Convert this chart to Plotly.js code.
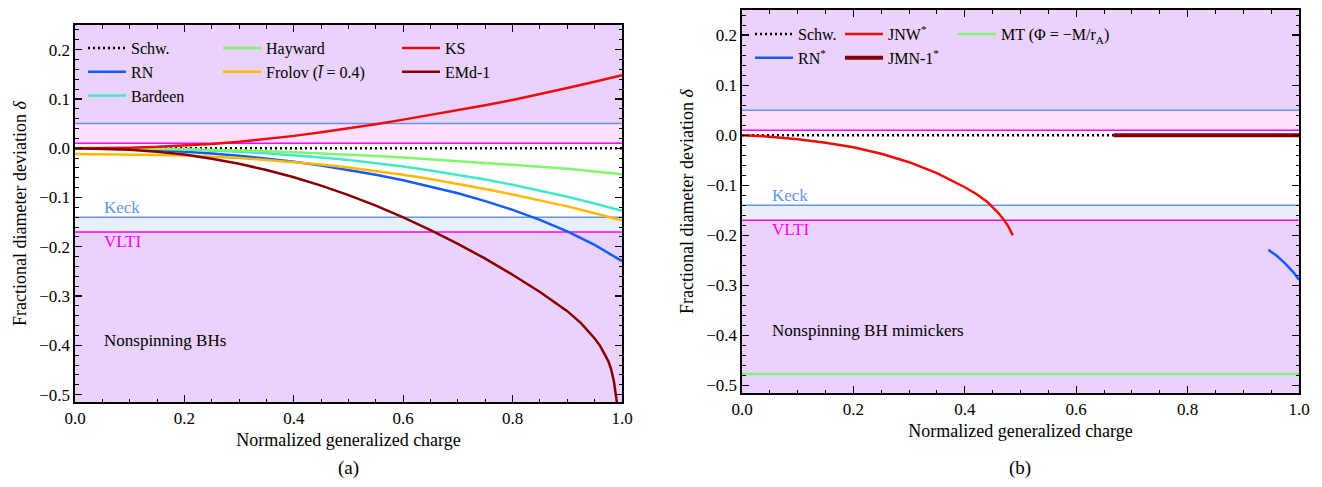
<!DOCTYPE html>
<html>
<head>
<meta charset="utf-8">
<script src="https://cdn.plot.ly/plotly-3.0.1.min.js"></script>
<style>html,body{margin:0;padding:0;background:#fff;}#chart{width:1322px;height:487px;}</style>
</head>
<body>
<div id="chart"></div>
<script>
// ---------- data ----------
// Panel (a): nonspinning BHs
const qA = [0, 0.05, 0.1, 0.15, 0.2, 0.25, 0.3, 0.35, 0.4, 0.45, 0.5, 0.55, 0.6, 0.65, 0.7, 0.75, 0.8, 0.85, 0.9, 0.95, 1.0];
const schwX = [0, 1];
const schwA = [0, 0];
const qRN = [0, 0.05, 0.1, 0.15, 0.2, 0.25, 0.3, 0.35, 0.4, 0.45, 0.5, 0.55, 0.6, 0.65, 0.7, 0.75, 0.8, 0.85, 0.9, 0.95, 0.975, 1.0];
const rn = [0, -0.0004, -0.0017, -0.0038, -0.0067, -0.0105, -0.0152, -0.0209, -0.0275, -0.0352, -0.0439, -0.0538, -0.0649, -0.0775, -0.0915, -0.1073, -0.1251, -0.1454, -0.1688, -0.1963, -0.2122, -0.2290];
const bardeen = [0, -0.0001, -0.0005, -0.0013, -0.0027, -0.0046, -0.0071, -0.0102, -0.0141, -0.0187, -0.0241, -0.0303, -0.0373, -0.0452, -0.0540, -0.0637, -0.0743, -0.0860, -0.0986, -0.1123, -0.1270];
const hayward = [0, -0.0001, -0.0005, -0.0011, -0.002, -0.003, -0.0045, -0.006, -0.008, -0.0103, -0.013, -0.0158, -0.019, -0.0225, -0.026, -0.0297, -0.0335, -0.0375, -0.0415, -0.0465, -0.053];
const frolov = [-0.012, -0.0121, -0.0125, -0.0136, -0.015, -0.0172, -0.020, -0.0237, -0.028, -0.0332, -0.039, -0.0462, -0.054, -0.0627, -0.072, -0.0827, -0.094, -0.1057, -0.118, -0.132, -0.147];
const ks = [0, 0.0003, 0.001, 0.0027, 0.005, 0.0087, 0.013, 0.0187, 0.025, 0.0323, 0.040, 0.0488, 0.058, 0.0673, 0.077, 0.0873, 0.098, 0.1097, 0.122, 0.1348, 0.148];
const qEMd = [0, 0.05, 0.1, 0.15, 0.2, 0.25, 0.3, 0.35, 0.4, 0.45, 0.5, 0.55, 0.6, 0.65, 0.7, 0.75, 0.8, 0.85, 0.9, 0.925, 0.95, 0.96, 0.97, 0.975, 0.98, 0.985, 0.99, 0.995];
const emd1 = [0, -0.0008, -0.003, -0.007, -0.013, -0.0212, -0.0316, -0.0442, -0.059, -0.076, -0.0952, -0.1166, -0.1402, -0.166, -0.194, -0.2242, -0.2567, -0.2917, -0.3307, -0.355, -0.386, -0.401, -0.420, -0.432, -0.448, -0.472, -0.510, -0.570];

// Panel (b): nonspinning BH mimickers
const qSchwB = [0, 0.667];
const schwB = [0, 0];
const qRNs = [0.945, 0.96, 0.975, 0.99, 1.0];
const rnStar = [-0.229, -0.241, -0.256, -0.274, -0.289];
const qJNW = [0, 0.05, 0.1, 0.15, 0.2, 0.25, 0.3, 0.35, 0.4, 0.42, 0.44, 0.45, 0.46, 0.47, 0.478, 0.486];
const jnw = [0, -0.003, -0.008, -0.015, -0.024, -0.037, -0.054, -0.076, -0.104, -0.117, -0.133, -0.143, -0.155, -0.169, -0.182, -0.200];
const qJMN = [0.667, 1.0];
const jmn1 = [0, 0];
const qMT = [0, 1.0];
const mt = [-0.477, -0.477];

// Observational bounds
const keckBand = [-0.14, 0.05];
const vltiBand = [-0.17, 0.01];

// Axis ticks
const xTicks = [0, 0.2, 0.4, 0.6, 0.8, 1.0];
const yTicks = [-0.5, -0.4, -0.3, -0.2, -0.1, 0.0, 0.1, 0.2];

// ---------- styling ----------
const FONT = 'Liberation Serif';
const W = 1322, H = 487;
const px = v => v / W;
const py = v => 1 - v / H;

const C = {
  rn: 'rgb(20,90,255)', bardeen: 'rgb(64,234,200)', hayward: 'rgb(128,245,110)',
  frolov: 'rgb(255,185,0)', ks: 'rgb(240,10,10)', emd: 'rgb(135,0,0)',
  keck: 'rgb(100,149,237)', vlti: 'rgb(255,0,255)'
};

function tr(x, y, name, color, xa, ya, leg, extra) {
  return Object.assign({
    x: x, y: y, name: name, type: 'scatter', mode: 'lines',
    line: {color: color, width: 2.5},
    xaxis: xa, yaxis: ya, legend: leg, hoverinfo: 'skip'
  }, extra || {});
}

const dotted = {color: 'black', width: 2.5, dash: '2px,3px'};
const traces = [
  tr(schwX, schwA, 'Schw.', 'black', 'x', 'y', 'legend', {line: dotted}),
  tr(qRN, rn, 'RN', C.rn, 'x', 'y', 'legend'),
  tr(qA, bardeen, 'Bardeen', C.bardeen, 'x', 'y', 'legend'),
  tr(qA, hayward, 'Hayward', C.hayward, 'x', 'y', 'legend2'),
  tr(qA, frolov, 'Frolov (<i>l̄</i> = 0.4)', C.frolov, 'x', 'y', 'legend2'),
  tr(qA, ks, 'KS', C.ks, 'x', 'y', 'legend3'),
  tr(qEMd, emd1, 'EMd-1', C.emd, 'x', 'y', 'legend3'),

  tr(qSchwB, schwB, 'Schw.', 'black', 'x2', 'y2', 'legend4', {line: dotted}),
  tr(qRNs, rnStar, 'RN<sup>*</sup>', C.rn, 'x2', 'y2', 'legend4'),
  tr(qJNW, jnw, 'JNW<sup>*</sup>', C.ks, 'x2', 'y2', 'legend5'),
  tr(qJMN, jmn1, 'JMN-1<sup>*</sup>', C.emd, 'x2', 'y2', 'legend5', {line: {color: C.emd, width: 4}}),
  tr(qMT, mt, 'MT (Φ = −M/r<sub>A</sub>)', C.hayward, 'x2', 'y2', 'legend6')
];

// band shading and lines built from the bound arrays
const shapes = [];
[['x', 'y'], ['x2', 'y2']].forEach(([xa, ya]) => {
  const xr = xa + ' domain';
  [[keckBand, 'rgba(100,149,237,0.15)'], [vltiBand, 'rgba(255,0,255,0.12)']].forEach(([b, fill]) => {
    shapes.push({type: 'rect', xref: xr, yref: ya, x0: 0, x1: 1, y0: b[1], y1: 1, fillcolor: fill, line: {width: 0}, layer: 'below'});
    shapes.push({type: 'rect', xref: xr, yref: ya, x0: 0, x1: 1, y0: -1, y1: b[0], fillcolor: fill, line: {width: 0}, layer: 'below'});
  });
  [[keckBand, C.keck], [vltiBand, C.vlti]].forEach(([b, col]) => {
    b.forEach(v => shapes.push({type: 'line', xref: xr, yref: ya, x0: 0, x1: 1, y0: v, y1: v, line: {color: col, width: 1.5}, layer: 'below'}));
  });
});

function xaxis(domain, anchor) {
  return {
    domain: domain, anchor: anchor, range: [0, 1], tickvals: xTicks, tickformat: '.1f',
    ticks: 'inside', ticklen: 7, tickwidth: 1.2, tickcolor: 'black', mirror: 'allticks',
    showline: true, linecolor: 'black', linewidth: 1.6, showgrid: false, zeroline: false,
    minor: {dtick: 0.05, ticks: 'inside', ticklen: 3.5, tickwidth: 1, tickcolor: 'black', showgrid: false},
    tickfont: {family: FONT, size: 17, color: 'black'},
    title: {text: 'Normalized generalized charge', font: {family: FONT, size: 18, color: 'black'}, standoff: 6}
  };
}
function yaxis(domain, anchor) {
  return {
    domain: domain, anchor: anchor, range: [-0.515, 0.25], tickvals: yTicks, tickformat: '.1f',
    ticks: 'inside', ticklen: 7, tickwidth: 1.2, tickcolor: 'black', mirror: 'allticks',
    showline: true, linecolor: 'black', linewidth: 1.6, showgrid: false, zeroline: false,
    minor: {dtick: 0.02, ticks: 'inside', ticklen: 3.5, tickwidth: 1, tickcolor: 'black', showgrid: false},
    tickfont: {family: FONT, size: 17, color: 'black'},
    title: {text: 'Fractional diameter deviation <i>δ</i>', font: {family: FONT, size: 18, color: 'black'}, standoff: 8}
  };
}

function legend(xp, yp) {
  return {x: px(xp), y: py(yp), xanchor: 'left', yanchor: 'top', bgcolor: 'rgba(0,0,0,0)',
    borderwidth: 0, itemwidth: 38, tracegroupgap: 0, traceorder: 'normal',
    font: {family: FONT, size: 16, color: 'black'}};
}

const ann = (text, x, y, xr, yr, color, extra) => Object.assign({
  text: text, x: x, y: y, xref: xr, yref: yr, showarrow: false, xanchor: 'left', yanchor: 'middle',
  font: {family: FONT, size: 17, color: color}
}, extra || {});

const annotations = [
  ann('Keck', 0.05, keckBand[0], 'x', 'y', C.keck, {yanchor: 'bottom', yshift: -2}),
  ann('VLTI', 0.05, vltiBand[0], 'x', 'y', C.vlti, {yanchor: 'top', yshift: 2}),
  ann('Nonspinning BHs', 0.05, -0.39, 'x', 'y', 'black'),
  ann('Keck', 0.05, keckBand[0], 'x2', 'y2', C.keck, {yanchor: 'bottom', yshift: -2}),
  ann('VLTI', 0.05, vltiBand[0], 'x2', 'y2', C.vlti, {yanchor: 'top', yshift: 2}),
  ann('Nonspinning BH mimickers', 0.05, -0.39, 'x2', 'y2', 'black'),
  ann('(a)', px(348), py(468), 'paper', 'paper', 'black', {xanchor: 'center', font: {family: FONT, size: 19, color: 'black'}}),
  ann('(b)', px(1020), py(468), 'paper', 'paper', 'black', {xanchor: 'center', font: {family: FONT, size: 19, color: 'black'}})
];

const layout = {
  width: W, height: H, margin: {l: 0, r: 0, t: 0, b: 0},
  paper_bgcolor: 'white', plot_bgcolor: 'white',
  font: {family: FONT, size: 17, color: 'black'},
  showlegend: true,
  xaxis: xaxis([px(75), px(622)], 'y'),
  yaxis: yaxis([1 - 402 / H, 1 - 25 / H], 'x'),
  xaxis2: xaxis([px(742), px(1299)], 'y2'),
  yaxis2: yaxis([1 - 393 / H, 1 - 10 / H], 'x2'),
  legend: legend(83, 31),
  legend2: legend(218, 31),
  legend3: legend(397, 31),
  legend4: legend(750, 17),
  legend5: legend(840, 17),
  legend6: legend(953, 17),
  shapes: shapes,
  annotations: annotations
};

Plotly.newPlot('chart', traces, layout, {staticPlot: true, displayModeBar: false});
</script>
</body>
</html>
